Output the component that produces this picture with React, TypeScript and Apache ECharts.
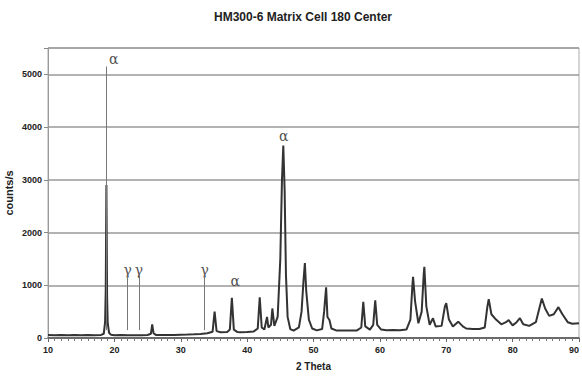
import React, { useEffect, useRef } from "react";
import * as echarts from "echarts";

const TITLE = "HM300-6 Matrix Cell 180 Center";
const X_NAME = "2 Theta";
const Y_NAME = "counts/s";

// 2-theta positions (degrees) and measured intensities (counts/s)
const twoTheta: number[] = [
  10, 11, 12, 13, 14, 15, 16, 17, 18, 18.4, 18.6, 18.7, 18.8, 18.9, 19.0, 19.2, 19.5,
  20, 21, 22, 23, 24, 25, 25.5, 25.7, 25.9, 26.3, 27, 28, 29, 30, 31, 32, 33, 34,
  34.8, 35.1, 35.4, 36, 37, 37.4, 37.7, 38.0, 38.5, 39, 40, 41, 41.6, 41.9, 42.2,
  42.6, 43.0, 43.2, 43.6, 43.8, 44.1, 44.6, 45.0, 45.25, 45.45, 45.65, 45.85, 46.1,
  46.5, 47, 47.8, 48.2, 48.5, 48.7, 48.9, 49.3, 49.8, 50.5, 51.3, 51.6, 51.9, 52.1,
  52.4, 52.7, 53.5, 55, 56.5, 57.2, 57.5, 57.8, 58.5, 59.0, 59.3, 59.6, 60.2, 61,
  62, 63, 64, 64.6, 64.9, 65.0, 65.3, 65.8, 66.3, 66.6, 66.7, 67.0, 67.5, 68.0,
  68.4, 69.3, 69.8, 70.0, 70.4, 71, 71.8, 72.5, 73, 74, 75, 75.8, 76.2, 76.4, 76.8,
  77.5, 78.3, 79.0, 79.4, 80, 80.6, 81.1, 81.6, 82.5, 83.5, 84.0, 84.4, 84.9, 85.5,
  86.2, 86.9, 87.5, 88.3, 89, 90,
];
const counts: number[] = [
  55, 50, 58, 52, 56, 50, 55, 52, 58, 80, 300, 900, 2900, 800, 280, 100, 60,
  52, 55, 50, 54, 52, 58, 80, 260, 90, 55, 55, 58, 56, 62, 65, 70, 78, 90,
  120, 500, 130, 110, 115, 160, 760, 160, 115, 110, 115, 125, 180, 770, 200,
  160, 400, 200, 250, 560, 230, 400, 1500, 3000, 3650, 2800, 1200, 400,
  170, 140, 200, 500, 1100, 1420, 900, 350, 180, 145, 170, 500, 960, 400,
  340, 180, 140, 140, 140, 200, 685, 220, 160, 250, 715, 250, 160, 145,
  150, 145, 160, 350, 1000, 1160, 700, 280, 500, 1200, 1350, 600, 250, 375,
  220, 230, 600, 660, 350, 220, 310, 220, 180, 170, 170, 200, 600, 735, 450,
  350, 260, 300, 340, 240, 300, 375, 260, 230, 300, 550, 750, 560, 420,
  450, 585, 450, 300, 270, 280,
];

// phase reference lines: position, bottom, top
const refPos: number[] = [18.8, 22.0, 23.7, 33.6];
const refBottom: number[] = [150, 150, 150, 150];
const refTop: number[] = [5150, 1180, 1180, 1180];

// phase labels: position, height, symbol
const labelPos: number[] = [19.9, 22.0, 23.7, 33.6, 38.2, 45.5];
const labelY: number[] = [5290, 1290, 1290, 1290, 1080, 3840];
const labelText: string[] = ["α", "γ", "γ", "γ", "α", "α"];

const X_MIN = 10;
const X_MAX = 90;
const X_STEP = 10;
const Y_MIN = 0;
const Y_MAX = 5500;
const Y_STEP = 1000;

export default function App() {
  const ref = useRef<HTMLDivElement>(null);
  useEffect(() => {
    if (!ref.current) return;
    const chart = echarts.init(ref.current, undefined, { renderer: "svg" });
    const lineData = twoTheta.map((x, i) => [x, counts[i]]);
    const refLines = refPos.map((x, i) => [
      { coord: [x, refBottom[i]] },
      { coord: [x, refTop[i]] },
    ]);
    const labels = labelPos.map((x, i) => ({ value: [x, labelY[i]], name: labelText[i] }));
    chart.setOption({
      animation: false,
      backgroundColor: "#ffffff",
      title: {
        text: TITLE,
        left: 298,
        top: 6,
        textAlign: "center",
        textStyle: { fontFamily: "Liberation Sans, Arial", fontSize: 12, fontWeight: "bold", color: "#222" },
      },
      grid: {
        left: 48,
        right: 3,
        top: 48,
        bottom: 39,
        containLabel: false,
        outerBoundsMode: "none",
        show: true,
        borderColor: "#aaaaaa",
        borderWidth: 1,
      },
      xAxis: {
        type: "value",
        min: X_MIN,
        max: X_MAX,
        interval: X_STEP,
        name: X_NAME,
        nameLocation: "middle",
        nameGap: 23,
        nameMoveOverlap: false,
        nameTextStyle: { fontFamily: "Liberation Sans, Arial", fontSize: 10, fontWeight: "bold", color: "#222" },
        axisLine: { show: true, lineStyle: { color: "#555", width: 1.5 } },
        axisTick: { show: true, length: 4, lineStyle: { color: "#666" } },
        minorTick: { show: true, splitNumber: 10, length: 3, lineStyle: { color: "#777" } },
        splitLine: { show: false },
        axisLabel: {
          margin: 7,
          alignMaxLabel: "right",
          fontFamily: "Liberation Sans, Arial",
          fontSize: 9,
          fontWeight: "bold",
          color: "#222",
        },
      },
      yAxis: {
        type: "value",
        min: Y_MIN,
        max: Y_MAX,
        interval: Y_STEP,
        name: Y_NAME,
        nameLocation: "middle",
        nameGap: 34,
        nameMoveOverlap: false,
        nameTextStyle: { fontFamily: "Liberation Sans, Arial", fontSize: 11, fontWeight: "bold", color: "#222" },
        axisLine: { show: true, lineStyle: { color: "#999", width: 1 } },
        axisTick: { show: true, length: 4, lineStyle: { color: "#888" } },
        splitLine: { show: true, lineStyle: { color: "#999", width: 1.5 } },
        axisLabel: {
          margin: 6,
          fontFamily: "Liberation Sans, Arial",
          fontSize: 9,
          fontWeight: "bold",
          color: "#222",
          formatter: (v: number) => (v % Y_STEP === 0 ? String(v) : ""),
        },
      },
      series: [
        {
          type: "line",
          data: lineData,
          showSymbol: false,
          lineStyle: { color: "#333", width: 2 },
          markLine: {
            silent: true,
            symbol: "none",
            label: { show: false },
            lineStyle: { color: "#777", width: 1, type: "solid" },
            data: refLines,
          },
        },
        {
          type: "scatter",
          data: labels,
          symbolSize: 0,
          silent: true,
          label: {
            show: true,
            position: "inside",
            formatter: (p: any) => p.name,
            fontFamily: "DejaVu Serif, Liberation Serif, serif",
            fontSize: 14,
            color: "#222",
          },
        },
      ],
    });
    return () => chart.dispose();
  }, []);
  return (
    <div
      ref={ref}
      style={{ position: "fixed", left: 0, top: 0, width: 582, height: 377 }}
    />
  );
}
